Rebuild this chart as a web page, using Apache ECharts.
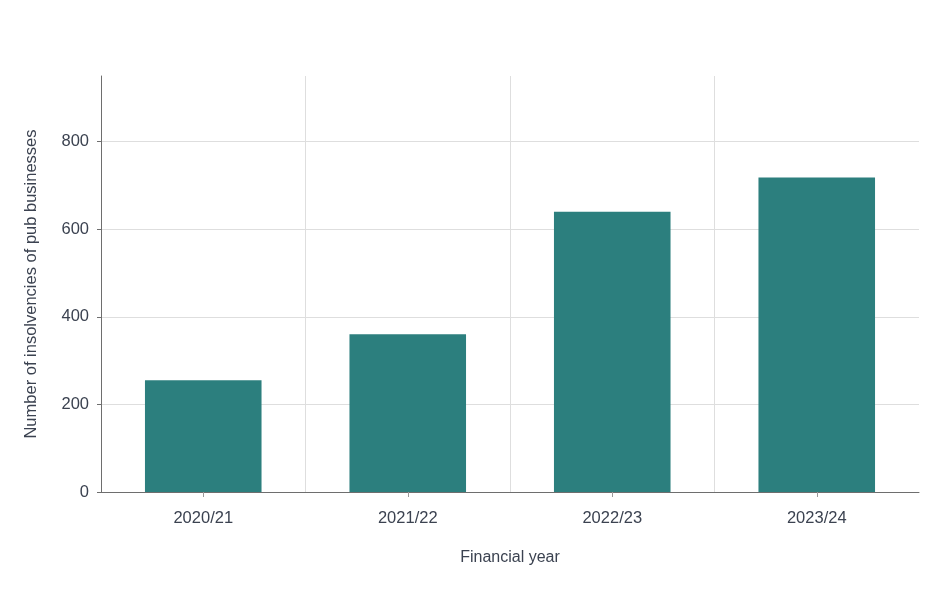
<html>
<head>
  <meta charset="utf-8" />
  <script src="https://cdn.jsdelivr.net/npm/echarts@6/dist/echarts.min.js"></script>
  <style>
    body { margin: 0; }
    #chart { width: 947px; height: 594px; }
  </style>
</head>
<body>
  <div id="chart"></div>
  <script>
    var years = ['2020/21', '2021/22', '2022/23', '2023/24'];
    var insolvencies = [255, 360, 640, 718];
    var yTicks = [0, 200, 400, 600, 800];

    var textColor = '#3b4250';
    var grid = '#dedede';
    var none = 'rgba(0,0,0,0)';
    var myChart = echarts.init(document.getElementById('chart'));

    var option = {
      textStyle: { fontFamily: 'Liberation Sans, Arial, sans-serif' },
      grid: { left: 101, right: 28, top: 76, bottom: 102, containLabel: false },
      xAxis: {
        type: 'category',
        data: years,
        name: 'Financial year',
        nameLocation: 'middle',
        nameGap: 58,
        nameTextStyle: { color: textColor, fontSize: 16 },
        axisLine: { lineStyle: { color: '#6e6e6e' } },
        axisTick: { show: true, alignWithLabel: true, length: 5, lineStyle: { color: '#999' } },
        axisLabel: { color: textColor, fontSize: 16.5, margin: 18 },
        // no line at the right edge
        splitLine: { show: true, lineStyle: { color: [grid, grid, grid, grid, none] } }
      },
      yAxis: {
        type: 'value',
        min: 0,
        max: 950,
        interval: 200,
        name: 'Number of insolvencies of pub businesses',
        nameLocation: 'middle',
        nameGap: 61,
        nameTextStyle: { color: textColor, fontSize: 16.5 },
        axisLine: { show: true, lineStyle: { color: '#6e6e6e' } },
        axisTick: { show: true, length: 4, customValues: yTicks, lineStyle: { color: '#6e6e6e' } },
        axisLabel: { color: textColor, fontSize: 16.5, margin: 12, customValues: yTicks },
        splitLine: {
          show: true,
          lineStyle: { color: [grid, grid, grid, grid, grid, none] }
        }
      },
      series: [
        {
          type: 'bar',
          data: insolvencies,
          barWidth: '57%',
          itemStyle: { color: '#2c7f7e' }
        }
      ]
    };
    myChart.setOption(option);
  </script>
</body>
</html>
